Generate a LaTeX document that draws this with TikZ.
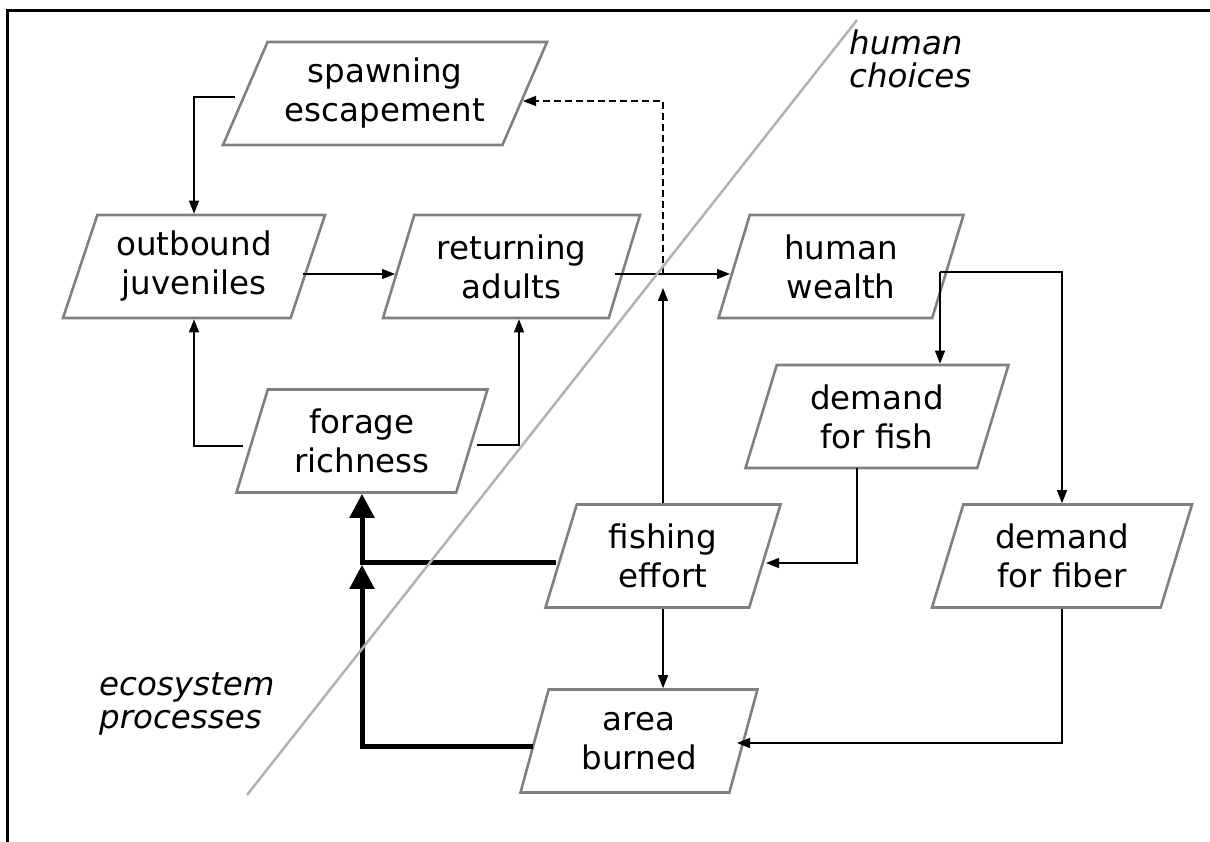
\documentclass[tikz,border=0pt]{standalone}
\usepackage{fontspec}
\setmainfont{DejaVu Sans}
\usetikzlibrary{shapes.geometric,arrows.meta,calc}
\definecolor{boxgray}{RGB}{128,128,128}
\definecolor{divgray}{RGB}{178,178,178}
\begin{document}
\begin{tikzpicture}[x=1pt,y=-1pt,
  pg/.style={trapezium, trapezium left angle=64, trapezium right angle=116,
    trapezium stretches body, draw=boxgray, line width=2.6pt,
    minimum height=103pt, inner sep=0pt, align=center,
    font=\fontsize{32.5}{39}\selectfont},
  arr/.style={line width=1.3pt, -{Triangle[length=13pt,width=10pt]}},
  thk/.style={line width=5pt, -{Triangle[length=24pt,width=24pt]}},
  dsh/.style={arr, dash pattern=on 7pt off 4pt},
  lab/.style={font=\itshape\fontsize{32.5}{33}\selectfont, align=left, inner sep=0pt}]
\useasboundingbox (0,0) rectangle (1210,842);
% frame
\draw[line width=3pt] (7.5,842) |- (1210,11);
% boxes
\node[pg, trapezium left angle=57.7, trapezium right angle=122.3, minimum width=324pt] (sp) at (385,93.5) {spawning\\escapement};
\node[pg, minimum width=262pt] (oj) at (194,266.5) {outbound\\juveniles};
\node[pg, minimum width=257pt] (ra) at (511.5,266.5) {returning\\adults};
\node[pg, minimum width=245pt] (hw) at (841,266.5) {human\\wealth};
\node[pg, minimum width=251pt] (fr) at (362,441) {forage\\richness};
\node[pg, minimum width=263pt] (df) at (877,416.5) {demand\\for fish};
\node[pg, minimum width=235pt] (fe) at (663,556) {fishing\\effort};
\node[pg, minimum width=260pt] (dfb) at (1062,556) {demand\\for fiber};
\node[pg, minimum width=237pt] (ab) at (639,741) {area\\burned};
% labels
\node[lab, anchor=north west] (hc) at (849,30) {human\\choices};
\node[lab, anchor=north west] (ep) at (99,672) {ecosystem\\processes};
% connectors
\coordinate (rl) at ($(ra.center)+(0,7.5)$);
\coordinate (j) at (fe.north |- rl);
\draw[arr] ($(sp.center)+(-150,3.5)$) -| (oj.north);
\draw[arr] ($(oj.center)+(109,7.5)$) -- ($(ra.center)+(-116.5,7.5)$);
\draw[arr] ($(ra.center)+(103.5,7.5)$) -- ($(hw.center)+(-111,7.5)$);
\draw[dsh] (j) |- ($(sp.center)+(138,7.5)$);
\draw[arr] (fe.north) -- ($(j)+(0,14)$);
\coordinate (hwo) at ($(hw.center)+(99,5.5)$);
\draw[arr] (hwo) -- (hwo |- df.north);
\draw[arr] (hwo) -| (dfb.north);
\draw[arr] ($(df.center)+(-20,51.5)$) |- ($(fe.center)+(103,7)$);
\draw[arr] (dfb.south) |- ($(ab.center)+(98,2)$);
\draw[arr] (fe.south) -- (fe.south |- ab.north);
\draw[arr] ($(fr.center)+(-119,5)$) -| (oj.south);
\draw[arr] ($(fr.center)+(115,4)$) -| ($(ra.south)+(7.5,0)$);
\draw[thk] ($(fe.center)+(-107,6)$) -| (fr.south);
\draw[thk] ($(ab.center)+(-106,5)$) -| ($(fr.south)+(0,71)$);
% divider
\draw[divgray, line width=2.5pt] (857,20) -- (247,795);
\end{tikzpicture}
\end{document}
